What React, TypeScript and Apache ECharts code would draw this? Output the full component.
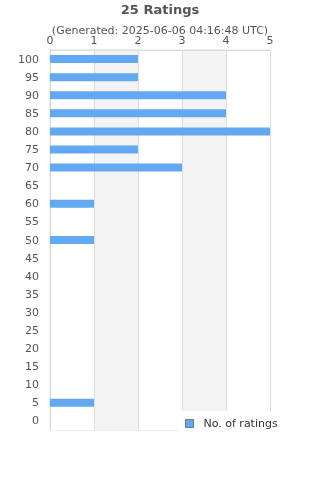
import React, { useEffect, useRef } from "react";
import * as echarts from "echarts";

const categories = ["0","5","10","15","20","25","30","35","40","45","50","55","60","65","70","75","80","85","90","95","100"];
const ratings = [0,1,0,0,0,0,0,0,0,0,1,0,1,0,3,2,5,4,4,2,2];
const titleText = "25 Ratings";
const subText = "(Generated: 2025-06-06 04:16:48 UTC)";
const seriesName = "No. of ratings";

export default function App() {
  const ref = useRef<HTMLDivElement>(null);
  useEffect(() => {
    const chart = echarts.init(ref.current!, undefined, { renderer: "svg" });
    chart.setOption({
      animation: false,
      textStyle: { fontFamily: "DejaVu Sans" },
      title: {
        text: titleText,
        subtext: subText,
        left: "center",
        top: -2,
        itemGap: 9,
        textStyle: { fontSize: 13, fontWeight: "bold", color: "#555", fontFamily: "DejaVu Sans" },
        subtextStyle: { fontSize: 11, color: "#555", fontFamily: "DejaVu Sans" },
      },
      grid: { left: 50, right: 50, top: 50, bottom: 50, show: true, borderColor: "#ddd", borderWidth: 1 },
      xAxis: {
        type: "value",
        position: "top",
        min: 0,
        max: 5,
        interval: 1,
        axisLine: { show: true, lineStyle: { color: "#ddd" } },
        axisTick: { show: false },
        axisLabel: { color: "#555", fontSize: 11, margin: 4 },
        splitLine: { show: true, lineStyle: { color: "#ddd" } },
        splitArea: { show: true, areaStyle: { color: ["#ffffff", "#f3f3f3"] } },
      },
      yAxis: {
        type: "category",
        data: categories,
        axisLine: { show: true, lineStyle: { color: "#ddd" } },
        axisTick: { show: false },
        axisLabel: { color: "#555", fontSize: 11, margin: 11 },
      },
      legend: {
        data: [{ name: seriesName, icon: "rect" }],
        left: 178,
        top: 411,
        padding: [7, 14, 6, 7],
        backgroundColor: "#fff",
        itemWidth: 8,
        itemHeight: 8,
        itemStyle: { borderColor: "#777", borderWidth: 1 },
        textStyle: { color: "#333", fontSize: 11, fontFamily: "DejaVu Sans", padding: [0, 0, 0, 5] },
      },
      series: [
        {
          name: seriesName,
          type: "bar",
          data: ratings,
          barWidth: 8,
          itemStyle: { color: "#63a9f2" },
        },
      ],
    });
    return () => chart.dispose();
  }, []);
  return <div ref={ref} style={{ position: "fixed", left: 0, top: 0, width: 320, height: 480 }} />;
}
